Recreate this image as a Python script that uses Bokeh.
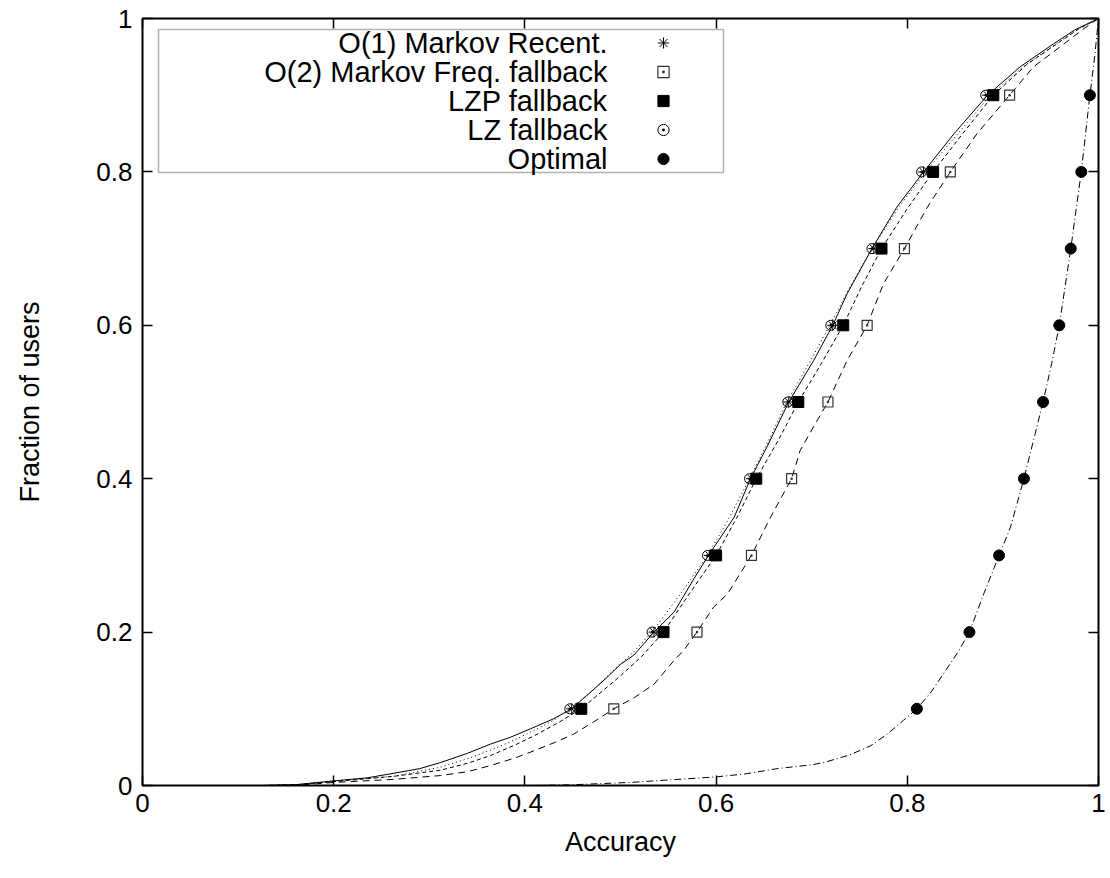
from bokeh.plotting import figure
from bokeh.models import LinearAxis, Legend, LegendItem, Label, BoxAnnotation, FixedTicker, NumeralTickFormatter
from bokeh.embed import file_html
from bokeh.resources import INLINE

# ---------------- data ----------------
series_names = ["O(1) Markov Recent.", "O(2) Markov Freq. fallback", "LZP fallback", "LZ fallback", "Optimal"]
tick_values = [0, 0.2, 0.4, 0.6, 0.8, 1]

# fraction-of-users levels at which markers are drawn
marker_levels = [0.1, 0.2, 0.3, 0.4, 0.5, 0.6, 0.7, 0.8, 0.9]

# marker accuracies per series
o1_marker_x = [0.449, 0.535, 0.593, 0.637, 0.676, 0.722, 0.765, 0.817, 0.884]
o2_marker_x = [0.493, 0.580, 0.637, 0.679, 0.717, 0.758, 0.797, 0.845, 0.907]
lzp_marker_x = [0.459, 0.545, 0.600, 0.642, 0.686, 0.733, 0.773, 0.827, 0.890]
lz_marker_x = [0.447, 0.533, 0.591, 0.635, 0.675, 0.720, 0.763, 0.815, 0.882]
opt_marker_x = [0.810, 0.865, 0.896, 0.922, 0.942, 0.959, 0.971, 0.982, 0.991]

# CDF curves (accuracy, fraction of users)
o1_x = [0.125, 0.16, 0.20, 0.235, 0.263, 0.29, 0.312, 0.34, 0.364, 0.385, 0.406, 0.43, 0.449, 0.469,
        0.486, 0.50, 0.514, 0.535, 0.556, 0.577, 0.592, 0.619, 0.636, 0.653, 0.676, 0.702, 0.722,
        0.737, 0.763, 0.789, 0.817, 0.849, 0.884, 0.918, 0.953, 0.975, 1.0]
o1_y = [0.0, 0.001, 0.006, 0.010, 0.016, 0.022, 0.030, 0.042, 0.054, 0.063, 0.074, 0.087, 0.100, 0.122,
        0.141, 0.158, 0.170, 0.200, 0.226, 0.270, 0.300, 0.350, 0.400, 0.441, 0.500, 0.554, 0.600,
        0.641, 0.700, 0.754, 0.800, 0.850, 0.900, 0.937, 0.967, 0.985, 1.0]

o2_x = [0.13, 0.17, 0.20, 0.263, 0.312, 0.34, 0.364, 0.39, 0.411, 0.431, 0.451, 0.472, 0.493, 0.515,
        0.535, 0.556, 0.566, 0.580, 0.597, 0.612, 0.637, 0.657, 0.679, 0.688, 0.703, 0.717, 0.737,
        0.758, 0.775, 0.797, 0.821, 0.845, 0.873, 0.907, 0.932, 0.964, 0.985, 1.0]
o2_y = [0.0, 0.001, 0.004, 0.008, 0.013, 0.018, 0.026, 0.036, 0.046, 0.056, 0.067, 0.083, 0.100, 0.115,
        0.132, 0.163, 0.176, 0.200, 0.232, 0.250, 0.300, 0.350, 0.400, 0.437, 0.470, 0.500, 0.554,
        0.600, 0.654, 0.700, 0.754, 0.800, 0.850, 0.900, 0.937, 0.967, 0.987, 1.0]

lzp_x = [0.125, 0.16, 0.20, 0.263, 0.312, 0.34, 0.364, 0.39, 0.41, 0.435, 0.459, 0.48, 0.50, 0.522,
         0.545, 0.572, 0.600, 0.622, 0.642, 0.665, 0.686, 0.71, 0.733, 0.752, 0.773, 0.80, 0.827,
         0.858, 0.890, 0.925, 0.96, 0.98, 1.0]
lzp_y = [0.0, 0.001, 0.005, 0.012, 0.020, 0.029, 0.039, 0.053, 0.065, 0.082, 0.100, 0.122, 0.143, 0.168,
         0.200, 0.250, 0.300, 0.350, 0.400, 0.450, 0.500, 0.550, 0.600, 0.650, 0.700, 0.752, 0.800,
         0.850, 0.900, 0.940, 0.970, 0.987, 1.0]

lz_x = [0.125, 0.16, 0.20, 0.263, 0.312, 0.34, 0.364, 0.385, 0.41, 0.43, 0.447, 0.47, 0.49, 0.512,
        0.533, 0.56, 0.591, 0.612, 0.635, 0.655, 0.674, 0.697, 0.719, 0.74, 0.763, 0.79, 0.819,
        0.853, 0.887, 0.922, 0.956, 0.978, 1.0]
lz_y = [0.0, 0.001, 0.006, 0.012, 0.024, 0.035, 0.046, 0.057, 0.072, 0.085, 0.100, 0.123, 0.147, 0.172,
        0.200, 0.245, 0.300, 0.345, 0.400, 0.450, 0.500, 0.550, 0.600, 0.650, 0.700, 0.752, 0.800,
        0.850, 0.900, 0.938, 0.967, 0.986, 1.0]

opt_x = [0.41, 0.45, 0.51, 0.56, 0.598, 0.63, 0.664, 0.70, 0.713, 0.74, 0.762, 0.78, 0.796, 0.810,
         0.825, 0.838, 0.852, 0.865, 0.880, 0.896, 0.908, 0.922, 0.932, 0.942, 0.951, 0.959, 0.971,
         0.982, 0.991, 0.996, 1.0]
opt_y = [0.0, 0.001, 0.004, 0.008, 0.011, 0.015, 0.022, 0.027, 0.030, 0.040, 0.052, 0.068, 0.085, 0.100,
         0.122, 0.146, 0.172, 0.200, 0.250, 0.300, 0.337, 0.400, 0.450, 0.500, 0.550, 0.600, 0.700,
         0.800, 0.900, 0.950, 1.0]

# ---------------- figure ----------------
FONT = "Liberation Sans"
TICK_SIZE = "26px"
LABEL_SIZE = "27px"
LEGEND_SIZE = "29px"

p = figure(width=1110, height=878, x_range=(0, 1), y_range=(0, 1),
           output_backend="svg", toolbar_location=None,
           min_border_left=142, min_border_right=12, min_border_top=18, min_border_bottom=93,
           x_axis_label="Accuracy", y_axis_label="Fraction of users")
p.xgrid.visible = False
p.ygrid.visible = False
p.outline_line_color = "black"
p.outline_line_width = 2
p.background_fill_color = "white"
p.border_fill_color = "white"

for ax in (p.xaxis[0], p.yaxis[0]):
    ax.ticker = FixedTicker(ticks=tick_values)
    ax.formatter = NumeralTickFormatter(format="0.[0]")
    ax.major_tick_in = 10
    ax.major_tick_out = 0
    ax.minor_tick_in = 0
    ax.minor_tick_out = 0
    ax.major_tick_line_width = 1.5
    ax.axis_line_color = None
    ax.major_label_text_font = FONT
    ax.major_label_text_font_size = TICK_SIZE
    ax.major_label_text_color = "black"
    ax.axis_label_text_font = FONT
    ax.axis_label_text_font_size = LABEL_SIZE
    ax.axis_label_text_font_style = "normal"
    ax.axis_label_text_color = "black"

p.xaxis[0].major_label_standoff = 8
p.xaxis[0].axis_label_standoff = 12
p.yaxis[0].major_label_standoff = 10
p.yaxis[0].axis_label_standoff = 48

# mirror ticks on top and right (tick marks only, labels not drawn)
for side in ("above", "right"):
    mx = LinearAxis(ticker=FixedTicker(ticks=tick_values), axis_line_color=None,
                    major_tick_in=10, major_tick_out=0, minor_tick_in=0, minor_tick_out=0,
                    major_tick_line_width=1.5, major_label_text_font_size="1px",
                    major_label_text_color=None, major_label_standoff=0)
    p.add_layout(mx, side)

# ---------------- curves ----------------
p.line(o1_x, o1_y, line_color="black", line_width=1)
p.line(o2_x, o2_y, line_color="black", line_width=1, line_dash="7 5")
p.line(lzp_x, lzp_y, line_color="black", line_width=1, line_dash="4 3")
p.line(lz_x, lz_y, line_color="black", line_width=1, line_dash="1 3")
p.line(opt_x, opt_y, line_color="black", line_width=1, line_dash="7 3 1 3")

# ---------------- markers ----------------
r_o1 = p.scatter(o1_marker_x, marker_levels, marker="asterisk", size=11,
                 line_color="black", line_width=1)
r_o2 = p.scatter(o2_marker_x, marker_levels, marker="square_dot", size=10,
                 line_color="#333333", fill_color=None, line_width=1.2)
r_lzp = p.scatter(lzp_marker_x, marker_levels, marker="square", size=11,
                  line_color="black", fill_color="black")
r_lz = p.scatter(lz_marker_x, marker_levels, marker="circle_dot", size=10,
                 line_color="black", fill_color=None, line_width=1)
r_opt = p.scatter(opt_marker_x, marker_levels, marker="circle", size=11,
                  line_color="black", fill_color="black")

# ---------------- legend (gnuplot style: text right-aligned, symbol on right) ----------------
box = BoxAnnotation(left=16, right=581, bottom=613, top=756,
                    left_units="screen", right_units="screen",
                    bottom_units="screen", top_units="screen",
                    fill_color=None, line_color="black", line_width=1.5)
p.add_layout(box)

entry_y = [743, 714, 685, 656, 627]
for name, yy in zip(series_names, entry_y):
    p.add_layout(Label(x=465, y=yy, x_units="screen", y_units="screen", text=name,
                       text_align="right", text_baseline="middle",
                       text_font=FONT, text_font_size=LEGEND_SIZE, text_color="black"))

items = [LegendItem(label=" ", renderers=[r]) for r in (r_o1, r_o2, r_lzp, r_lz, r_opt)]
legend = Legend(items=items, location=(507, 612), glyph_width=28, glyph_height=29,
                label_standoff=0, label_width=0, label_height=0, padding=0, spacing=0, margin=0,
                border_line_alpha=0, background_fill_alpha=0,
                label_text_font_size="1px", label_text_color=None)
p.add_layout(legend)

open("out.html", "w").write(file_html(p, INLINE))
